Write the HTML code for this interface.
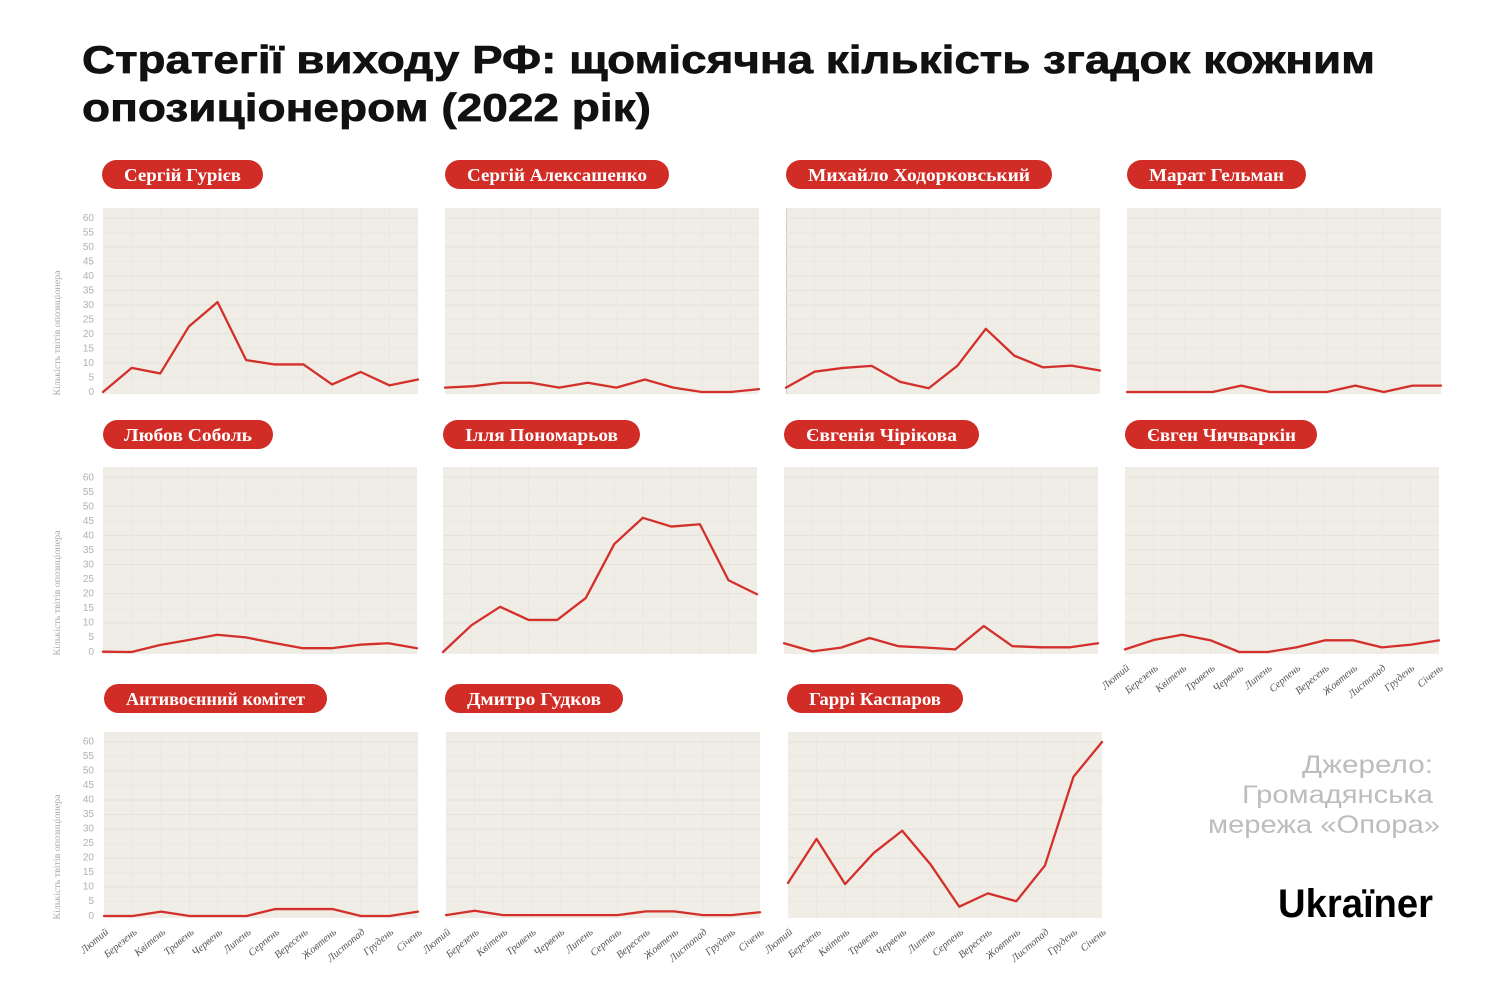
<!DOCTYPE html>
<html>
<head>
<meta charset="utf-8">
<style>
html,body{margin:0;padding:0;background:#fff;}
svg{display:block;}
.t{font-family:"Liberation Sans","DejaVu Sans",sans-serif;font-weight:bold;fill:#111;stroke:#111;stroke-width:0.7;}
.pill{fill:#d12c26;}
.pt{font-family:"Liberation Serif","DejaVu Serif",serif;font-weight:bold;font-size:18px;fill:#fff;}
.yl{font-family:"Liberation Sans","DejaVu Sans",sans-serif;font-size:10px;fill:#b0b0b0;}
.yt{font-family:"Liberation Serif","DejaVu Serif",serif;font-size:9.5px;fill:#a8a8a8;}
.xl{font-family:"Liberation Serif","DejaVu Serif",serif;font-style:italic;font-size:10.5px;fill:#555;}
.src{font-family:"Liberation Sans","DejaVu Sans",sans-serif;font-size:25px;fill:#bdbdbd;}
.logo{font-family:"Liberation Sans","DejaVu Sans",sans-serif;font-weight:bold;font-size:40px;fill:#000;}
.bg{fill:#f0ede7;}
.ln{fill:none;stroke:#d3302b;stroke-width:2.3;stroke-linejoin:round;stroke-linecap:round;}
</style>
</head>
<body>
<svg width="1500" height="1000" viewBox="0 0 1500 1000" xmlns="http://www.w3.org/2000/svg">
<defs>
<g id="grid">
<line x1="0" x2="11" y1="-3" y2="-3" stroke="#ece8e2" stroke-width="1" vector-effect="non-scaling-stroke"/>
<line x1="0" x2="11" y1="0" y2="0" stroke="#e4e0da" stroke-width="1" vector-effect="non-scaling-stroke"/>
<line x1="0" x2="11" y1="5" y2="5" stroke="#ebe7e1" stroke-width="1" vector-effect="non-scaling-stroke"/>
<line x1="0" x2="11" y1="10" y2="10" stroke="#e4e0da" stroke-width="1" vector-effect="non-scaling-stroke"/>
<line x1="0" x2="11" y1="15" y2="15" stroke="#ebe7e1" stroke-width="1" vector-effect="non-scaling-stroke"/>
<line x1="0" x2="11" y1="20" y2="20" stroke="#e4e0da" stroke-width="1" vector-effect="non-scaling-stroke"/>
<line x1="0" x2="11" y1="25" y2="25" stroke="#e4e0da" stroke-width="1" vector-effect="non-scaling-stroke"/>
<line x1="0" x2="11" y1="30" y2="30" stroke="#e4e0da" stroke-width="1" vector-effect="non-scaling-stroke"/>
<line x1="0" x2="11" y1="35" y2="35" stroke="#ebe7e1" stroke-width="1" vector-effect="non-scaling-stroke"/>
<line x1="0" x2="11" y1="40" y2="40" stroke="#e4e0da" stroke-width="1" vector-effect="non-scaling-stroke"/>
<line x1="0" x2="11" y1="45" y2="45" stroke="#ebe7e1" stroke-width="1" vector-effect="non-scaling-stroke"/>
<line x1="0" x2="11" y1="50" y2="50" stroke="#e4e0da" stroke-width="1" vector-effect="non-scaling-stroke"/>
<line x1="0" x2="11" y1="55" y2="55" stroke="#ebe7e1" stroke-width="1" vector-effect="non-scaling-stroke"/>
<line y1="-3.4" y2="60.7" x1="1" x2="1" stroke="#eae6e0" stroke-width="1" vector-effect="non-scaling-stroke"/>
<line y1="-3.4" y2="60.7" x1="2" x2="2" stroke="#eae6e0" stroke-width="1" vector-effect="non-scaling-stroke"/>
<line y1="-3.4" y2="60.7" x1="3" x2="3" stroke="#eae6e0" stroke-width="1" vector-effect="non-scaling-stroke"/>
<line y1="-3.4" y2="60.7" x1="4" x2="4" stroke="#eae6e0" stroke-width="1" vector-effect="non-scaling-stroke"/>
<line y1="-3.4" y2="60.7" x1="5" x2="5" stroke="#eae6e0" stroke-width="1" vector-effect="non-scaling-stroke"/>
<line y1="-3.4" y2="60.7" x1="6" x2="6" stroke="#eae6e0" stroke-width="1" vector-effect="non-scaling-stroke"/>
<line y1="-3.4" y2="60.7" x1="7" x2="7" stroke="#eae6e0" stroke-width="1" vector-effect="non-scaling-stroke"/>
<line y1="-3.4" y2="60.7" x1="8" x2="8" stroke="#eae6e0" stroke-width="1" vector-effect="non-scaling-stroke"/>
<line y1="-3.4" y2="60.7" x1="9" x2="9" stroke="#eae6e0" stroke-width="1" vector-effect="non-scaling-stroke"/>
<line y1="-3.4" y2="60.7" x1="10" x2="10" stroke="#eae6e0" stroke-width="1" vector-effect="non-scaling-stroke"/>
</g>
</defs>

<!-- Title -->
<text class="t" x="82" y="73" font-size="39" textLength="1293" lengthAdjust="spacingAndGlyphs">Стратегії виходу РФ: щомісячна кількість згадок кожним</text>
<text class="t" x="82" y="121" font-size="39" textLength="569" lengthAdjust="spacingAndGlyphs">опозиціонером (2022 рік)</text>

<!-- ROW 1 -->
<rect class="pill" x="102" y="160" width="161" height="29" rx="14.5"/>
<text class="pt" x="124" y="181" textLength="117" lengthAdjust="spacingAndGlyphs">Сергій Гурієв</text>
<rect class="pill" x="445" y="160" width="224" height="29" rx="14.5"/>
<text class="pt" x="467" y="181" textLength="180" lengthAdjust="spacingAndGlyphs">Сергій Алексашенко</text>
<rect class="pill" x="786" y="160" width="266" height="29" rx="14.5"/>
<text class="pt" x="808" y="181" textLength="222" lengthAdjust="spacingAndGlyphs">Михайло Ходорковський</text>
<rect class="pill" x="1127" y="160" width="179" height="29" rx="14.5"/>
<text class="pt" x="1149" y="181" textLength="135" lengthAdjust="spacingAndGlyphs">Марат Гельман</text>

<rect class="bg" x="103" y="208" width="315" height="186"/>
<svg x="103" y="218" width="315" height="174" viewBox="0 0 11 60" preserveAspectRatio="none" overflow="visible">
<use href="#grid"/>
<polyline class="ln" vector-effect="non-scaling-stroke" points="0,60 1,51.7 2,53.6 3,37.4 4,29 5,49 6,50.5 7,50.5 8,57.4 9,53.1 10,57.7 11,55.7"/>
</svg>
<rect class="bg" x="445" y="208" width="314" height="186"/>
<svg x="445" y="218" width="314" height="174" viewBox="0 0 11 60" preserveAspectRatio="none" overflow="visible">
<use href="#grid"/>
<polyline class="ln" vector-effect="non-scaling-stroke" points="0,58.5 1,58 2,56.8 3,56.8 4,58.5 5,56.8 6,58.5 7,55.7 8,58.5 9,60 10,60 11,59"/>
</svg>
<rect class="bg" x="786" y="208" width="314" height="186"/>
<line x1="786.5" y1="208" x2="786.5" y2="394" stroke="#cfcbc5" stroke-width="1"/>
<svg x="786" y="218" width="314" height="174" viewBox="0 0 11 60" preserveAspectRatio="none" overflow="visible">
<use href="#grid"/>
<polyline class="ln" vector-effect="non-scaling-stroke" points="0,58.5 1,53 2,51.7 3,51 4,56.5 5,58.7 6,51 7,38.2 8,47.5 9,51.5 10,50.9 11,52.6"/>
</svg>
<rect class="bg" x="1127" y="208" width="314" height="186"/>
<svg x="1127" y="218" width="314" height="174" viewBox="0 0 11 60" preserveAspectRatio="none" overflow="visible">
<use href="#grid"/>
<polyline class="ln" vector-effect="non-scaling-stroke" points="0,60 1,60 2,60 3,60 4,57.8 5,60 6,60 7,60 8,57.8 9,60 10,57.8 11,57.8"/>
</svg>

<!-- Y labels row 1 -->
<g class="yl" text-anchor="end">
<text x="94" y="221">60</text><text x="94" y="235.5">55</text><text x="94" y="250">50</text><text x="94" y="264.5">45</text>
<text x="94" y="279">40</text><text x="94" y="293.5">35</text><text x="94" y="308">30</text><text x="94" y="322.5">25</text>
<text x="94" y="337">20</text><text x="94" y="351.5">15</text><text x="94" y="366">10</text><text x="94" y="380.5">5</text>
<text x="94" y="395">0</text>
</g>
<text class="yt" transform="translate(60,333) rotate(-90)" text-anchor="middle" textLength="125" lengthAdjust="spacingAndGlyphs">Кількість твітів опозиціонера</text>

<!-- ROW 2 -->
<rect class="pill" x="103" y="420" width="170" height="29" rx="14.5"/>
<text class="pt" x="124" y="441" textLength="128" lengthAdjust="spacingAndGlyphs">Любов Соболь</text>
<rect class="pill" x="443" y="420" width="197" height="29" rx="14.5"/>
<text class="pt" x="465" y="441" textLength="153" lengthAdjust="spacingAndGlyphs">Ілля Пономарьов</text>
<rect class="pill" x="784" y="420" width="195" height="29" rx="14.5"/>
<text class="pt" x="806" y="441" textLength="151" lengthAdjust="spacingAndGlyphs">Євгенія Чірікова</text>
<rect class="pill" x="1125" y="420" width="192" height="29" rx="14.5"/>
<text class="pt" x="1147" y="441" textLength="149" lengthAdjust="spacingAndGlyphs">Євген Чичваркін</text>

<rect class="bg" x="103" y="467" width="314" height="187"/>
<svg x="103" y="477" width="314" height="175" viewBox="0 0 11 60" preserveAspectRatio="none" overflow="visible">
<use href="#grid"/>
<polyline class="ln" vector-effect="non-scaling-stroke" points="0,59.9 1,60 2,57.6 3,55.9 4,54.1 5,55 6,56.9 7,58.7 8,58.7 9,57.5 10,57 11,58.7"/>
</svg>
<rect class="bg" x="443" y="467" width="314" height="187"/>
<svg x="443" y="477" width="314" height="175" viewBox="0 0 11 60" preserveAspectRatio="none" overflow="visible">
<use href="#grid"/>
<polyline class="ln" vector-effect="non-scaling-stroke" points="0,60 1,50.8 2,44.5 3,49 4,49 5,41.5 6,23 7,14 8,17 9,16.2 10,35.4 11,40.2"/>
</svg>
<rect class="bg" x="784" y="467" width="314" height="187"/>
<svg x="784" y="477" width="314" height="175" viewBox="0 0 11 60" preserveAspectRatio="none" overflow="visible">
<use href="#grid"/>
<polyline class="ln" vector-effect="non-scaling-stroke" points="0,57 1,59.8 2,58.5 3,55.2 4,58 5,58.5 6,59.1 7,51.1 8,58 9,58.4 10,58.4 11,57"/>
</svg>
<rect class="bg" x="1125" y="467" width="314" height="187"/>
<svg x="1125" y="477" width="314" height="175" viewBox="0 0 11 60" preserveAspectRatio="none" overflow="visible">
<use href="#grid"/>
<polyline class="ln" vector-effect="non-scaling-stroke" points="0,59.1 1,55.9 2,54.1 3,56 4,60 5,60 6,58.4 7,56 8,56 9,58.4 10,57.5 11,56"/>
</svg>

<g class="yl" text-anchor="end">
<text x="94" y="480.5">60</text><text x="94" y="495">55</text><text x="94" y="509.5">50</text><text x="94" y="524">45</text>
<text x="94" y="538.5">40</text><text x="94" y="553">35</text><text x="94" y="567.5">30</text><text x="94" y="582">25</text>
<text x="94" y="596.5">20</text><text x="94" y="611">15</text><text x="94" y="625.5">10</text><text x="94" y="640">5</text>
<text x="94" y="655">0</text>
</g>
<text class="yt" transform="translate(60,593) rotate(-90)" text-anchor="middle" textLength="125" lengthAdjust="spacingAndGlyphs">Кількість твітів опозиціонера</text>

<!-- X labels under panel 8 -->
<g class="xl" text-anchor="end">
<text transform="translate(1130,669) rotate(-40)">Лютий</text>
<text transform="translate(1158.5,669) rotate(-40)">Березень</text>
<text transform="translate(1187,669) rotate(-40)">Квітень</text>
<text transform="translate(1215.5,669) rotate(-40)">Травень</text>
<text transform="translate(1244,669) rotate(-40)">Червень</text>
<text transform="translate(1272.5,669) rotate(-40)">Липень</text>
<text transform="translate(1301,669) rotate(-40)">Серпень</text>
<text transform="translate(1329.5,669) rotate(-40)">Вересень</text>
<text transform="translate(1358,669) rotate(-40)">Жовтень</text>
<text transform="translate(1386.5,669) rotate(-40)">Листопад</text>
<text transform="translate(1415,669) rotate(-40)">Грудень</text>
<text transform="translate(1443.5,669) rotate(-40)">Січень</text>
</g>

<!-- ROW 3 -->
<rect class="pill" x="104" y="684" width="223" height="29" rx="14.5"/>
<text class="pt" x="126" y="705" textLength="179" lengthAdjust="spacingAndGlyphs">Антивоєнний комітет</text>
<rect class="pill" x="445" y="684" width="178" height="29" rx="14.5"/>
<text class="pt" x="467" y="705" textLength="134" lengthAdjust="spacingAndGlyphs">Дмитро Гудков</text>
<rect class="pill" x="787" y="684" width="176" height="29" rx="14.5"/>
<text class="pt" x="809" y="705" textLength="132" lengthAdjust="spacingAndGlyphs">Гаррі Каспаров</text>

<rect class="bg" x="104" y="732" width="314" height="186"/>
<svg x="104" y="742" width="314" height="174" viewBox="0 0 11 60" preserveAspectRatio="none" overflow="visible">
<use href="#grid"/>
<polyline class="ln" vector-effect="non-scaling-stroke" points="0,60 1,60 2,58.5 3,60 4,60 5,60 6,57.6 7,57.6 8,57.6 9,60 10,60 11,58.5"/>
</svg>
<rect class="bg" x="446" y="732" width="314" height="186"/>
<svg x="446" y="742" width="314" height="174" viewBox="0 0 11 60" preserveAspectRatio="none" overflow="visible">
<use href="#grid"/>
<polyline class="ln" vector-effect="non-scaling-stroke" points="0,59.7 1,58.2 2,59.7 3,59.7 4,59.7 5,59.7 6,59.7 7,58.4 8,58.4 9,59.7 10,59.7 11,58.7"/>
</svg>
<rect class="bg" x="788" y="732" width="314" height="186"/>
<svg x="788" y="742" width="314" height="174" viewBox="0 0 11 60" preserveAspectRatio="none" overflow="visible">
<use href="#grid"/>
<polyline class="ln" vector-effect="non-scaling-stroke" points="0,48.6 1,33.4 2,49 3,38.3 4,30.6 5,42.3 6,56.8 7,52.2 8,54.9 9,42.6 10,12 11,0"/>
</svg>

<g class="yl" text-anchor="end">
<text x="94" y="744.5">60</text><text x="94" y="759">55</text><text x="94" y="773.5">50</text><text x="94" y="788">45</text>
<text x="94" y="802.5">40</text><text x="94" y="817">35</text><text x="94" y="831.5">30</text><text x="94" y="846">25</text>
<text x="94" y="860.5">20</text><text x="94" y="875">15</text><text x="94" y="889.5">10</text><text x="94" y="904">5</text>
<text x="94" y="919">0</text>
</g>
<text class="yt" transform="translate(60,857) rotate(-90)" text-anchor="middle" textLength="125" lengthAdjust="spacingAndGlyphs">Кількість твітів опозиціонера</text>

<!-- X labels row 3 -->
<g class="xl" text-anchor="end">
<text transform="translate(109,933) rotate(-40)">Лютий</text>
<text transform="translate(137.5,933) rotate(-40)">Березень</text>
<text transform="translate(166,933) rotate(-40)">Квітень</text>
<text transform="translate(194.5,933) rotate(-40)">Травень</text>
<text transform="translate(223,933) rotate(-40)">Червень</text>
<text transform="translate(251.5,933) rotate(-40)">Липень</text>
<text transform="translate(280,933) rotate(-40)">Серпень</text>
<text transform="translate(308.5,933) rotate(-40)">Вересень</text>
<text transform="translate(337,933) rotate(-40)">Жовтень</text>
<text transform="translate(365.5,933) rotate(-40)">Листопад</text>
<text transform="translate(394,933) rotate(-40)">Грудень</text>
<text transform="translate(422.5,933) rotate(-40)">Січень</text>
</g>
<g class="xl" text-anchor="end">
<text transform="translate(451,933) rotate(-40)">Лютий</text>
<text transform="translate(479.5,933) rotate(-40)">Березень</text>
<text transform="translate(508,933) rotate(-40)">Квітень</text>
<text transform="translate(536.5,933) rotate(-40)">Травень</text>
<text transform="translate(565,933) rotate(-40)">Червень</text>
<text transform="translate(593.5,933) rotate(-40)">Липень</text>
<text transform="translate(622,933) rotate(-40)">Серпень</text>
<text transform="translate(650.5,933) rotate(-40)">Вересень</text>
<text transform="translate(679,933) rotate(-40)">Жовтень</text>
<text transform="translate(707.5,933) rotate(-40)">Листопад</text>
<text transform="translate(736,933) rotate(-40)">Грудень</text>
<text transform="translate(764.5,933) rotate(-40)">Січень</text>
</g>
<g class="xl" text-anchor="end">
<text transform="translate(793,933) rotate(-40)">Лютий</text>
<text transform="translate(821.5,933) rotate(-40)">Березень</text>
<text transform="translate(850,933) rotate(-40)">Квітень</text>
<text transform="translate(878.5,933) rotate(-40)">Травень</text>
<text transform="translate(907,933) rotate(-40)">Червень</text>
<text transform="translate(935.5,933) rotate(-40)">Липень</text>
<text transform="translate(964,933) rotate(-40)">Серпень</text>
<text transform="translate(992.5,933) rotate(-40)">Вересень</text>
<text transform="translate(1021,933) rotate(-40)">Жовтень</text>
<text transform="translate(1049.5,933) rotate(-40)">Листопад</text>
<text transform="translate(1078,933) rotate(-40)">Грудень</text>
<text transform="translate(1106.5,933) rotate(-40)">Січень</text>
</g>

<!-- Source -->
<text class="src" x="1302" y="773" textLength="131" lengthAdjust="spacingAndGlyphs">Джерело:</text>
<text class="src" x="1242" y="803" textLength="191" lengthAdjust="spacingAndGlyphs">Громадянська</text>
<text class="src" x="1208" y="833" textLength="232" lengthAdjust="spacingAndGlyphs">мережа «Опора»</text>

<!-- Logo -->
<text class="logo" x="1278" y="917" textLength="155" lengthAdjust="spacingAndGlyphs">Ukraïner</text>
</svg>
</body>
</html>
